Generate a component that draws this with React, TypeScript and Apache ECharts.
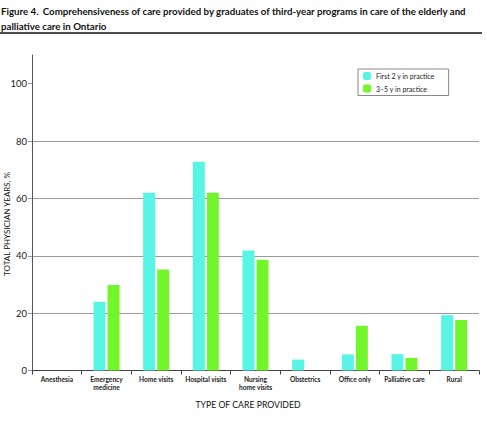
import React, { useEffect, useRef } from "react";
import * as echarts from "echarts";

const categories = [
  "Anesthesia",
  "Emergency\nmedicine",
  "Home visits",
  "Hospital visits",
  "Nursing\nhome visits",
  "Obstetrics",
  "Office only",
  "Palliative care",
  "Rural",
];
const first2y = [0, 24, 62, 72.8, 41.8, 3.8, 5.6, 5.7, 19.3];
const y3to5 = [0, 29.8, 35.2, 62, 38.6, 0, 15.6, 4.4, 17.6];
const yTicks = [0, 20, 40, 60, 80, 100];
const seriesNames = ["First 2 y in practice", "3–5 y in practice"];
const xAxisName = "TYPE OF CARE PROVIDED";
const yAxisName = "TOTAL PHYSICIAN YEARS, %";

const FONT = "Lato, 'Liberation Sans', sans-serif";

export default function App() {
  const ref = useRef<HTMLDivElement>(null);
  useEffect(() => {
    if (!ref.current) return;
    const chart = echarts.init(ref.current, null, { renderer: "svg" });
    chart.setOption({
      animation: false,
      backgroundColor: "#ffffff",
      textStyle: { fontFamily: FONT },
      title: {
        left: 1,
        top: 2,
        padding: 0,
        text:
          "{b|Figure 4.} {n|Comprehensiveness of care provided by graduates of third-year programs in care of the elderly and}\n{n|palliative care in Ontario}",
        textStyle: {
          rich: {
            b: { fontFamily: FONT, fontSize: 9.7, fontWeight: "bold", color: "#111", lineHeight: 12 },
            n: { fontFamily: FONT, fontSize: 9.7, color: "#111", lineHeight: 12 },
          },
        },
      },
      graphic: [
        {
          type: "line",
          shape: { x1: 0, y1: 33, x2: 482, y2: 33 },
          style: { stroke: "#111", lineWidth: 1.6 },
        },
        {
          type: "text",
          x: 248,
          y: 404,
          style: {
            text: xAxisName,
            fontFamily: FONT,
            fontSize: 8.7,
            fill: "#111",
            align: "center",
            verticalAlign: "middle",
          },
        },
        {
          type: "text",
          x: 7,
          y: 224,
          rotation: Math.PI / 2,
          style: {
            text: yAxisName,
            fontFamily: FONT,
            fontSize: 8,
            fill: "#111",
            align: "center",
            verticalAlign: "middle",
          },
        },
      ],
      legend: {
        orient: "vertical",
        left: 358,
        top: 69,
        padding: [3, 14, 3, 5],
        itemWidth: 8,
        itemHeight: 8,
        itemGap: 4.5,
        backgroundColor: "#ffffff",
        borderColor: "#888",
        borderWidth: 1,
        data: seriesNames,
        textStyle: { fontFamily: FONT, fontSize: 7, color: "#222" },
      },
      grid: { left: 32, right: 8, top: 55, bottom: 51.5, containLabel: false },
      xAxis: {
        type: "category",
        data: categories,
        axisLine: { lineStyle: { color: "#444", width: 1 } },
        axisTick: { show: true, length: 4, inside: false, lineStyle: { color: "#444" } },
        axisLabel: {
          interval: 0,
          margin: 5,
          fontFamily: FONT,
          fontSize: 6.6,
          fontWeight: "bold",
          color: "#222",
          lineHeight: 7.5,
        },
      },
      yAxis: {
        type: "value",
        min: 0,
        max: 110,
        interval: 20,
        axisLine: { show: true, lineStyle: { color: "#555", width: 1 } },
        axisTick: { show: true, length: 4, lineStyle: { color: "#999" }, customValues: yTicks },
        axisLabel: {
          margin: 5,
          fontFamily: FONT,
          fontSize: 9.5,
          color: "#222",
          customValues: yTicks,
        },
        splitLine: { show: true, showMaxLine: false, lineStyle: { color: "#999", width: 1 } },
      },
      series: [
        {
          name: seriesNames[0],
          type: "bar",
          data: first2y,
          barWidth: 12,
          barGap: "17%",
          itemStyle: { color: "#58f5e6" },
        },
        {
          name: seriesNames[1],
          type: "bar",
          data: y3to5,
          barWidth: 12,
          itemStyle: { color: "#72f52a" },
        },
      ],
    });
    return () => chart.dispose();
  }, []);
  return (
    <div
      ref={ref}
      style={{ position: "fixed", left: 0, top: 0, width: 487, height: 422 }}
    />
  );
}
